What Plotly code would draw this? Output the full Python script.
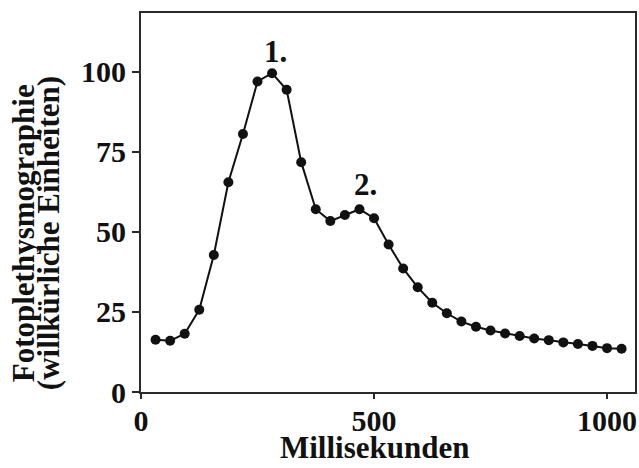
import plotly.graph_objects as go

# Data
zeit_ms = [31.25, 62.5, 93.75, 125, 156.25, 187.5, 218.75, 250, 281.25, 312.5,
           343.75, 375, 406.25, 437.5, 468.75, 500, 531.25, 562.5, 593.75, 625,
           656.25, 687.5, 718.75, 750, 781.25, 812.5, 843.75, 875, 906.25, 937.5,
           968.75, 1000, 1031.25]
ppg = [16.3, 16.0, 18.2, 25.7, 42.8, 65.5, 80.6, 97.0, 99.6, 94.4,
       71.8, 57.1, 53.4, 55.3, 57.1, 54.3, 46.1, 38.6, 32.7, 27.9,
       24.6, 22.0, 20.4, 19.2, 18.3, 17.5, 16.7, 16.2, 15.5, 15.0,
       14.4, 13.7, 13.5]

x_ticks = [0, 500, 1000]
y_ticks = [0, 25, 50, 75, 100]

peak_labels = ["1.", "2."]
peak_x = [288, 482]
peak_y = [106.5, 64.7]

x_title = "Millisekunden"
y_title_lines = ["Fotoplethysmographie", "(willkürliche Einheiten)"]

FONT = dict(family="Liberation Serif, Times New Roman, serif", size=31,
            color="#111111", weight="bold")
TICK_FONT = dict(FONT, size=30)
YT_FONT = dict(FONT, size=31)

fig = go.Figure()
fig.add_trace(go.Scatter(
    x=zeit_ms, y=ppg, mode="lines+markers",
    line=dict(color="#111111", width=2),
    marker=dict(color="#111111", size=10),
    showlegend=False, hoverinfo="skip",
))

for t, xx, yy in zip(peak_labels, peak_x, peak_y):
    fig.add_annotation(x=xx, y=yy, xref="x", yref="y", text=t, showarrow=False,
                       font=FONT, xanchor="center", yanchor="middle")

fig.add_annotation(x=0.4738, y=-0.1979, xref="paper", yref="paper", text=x_title,
                   showarrow=False, font=FONT, xanchor="center", yanchor="bottom")
for t, xx in zip(y_title_lines, [-0.2379, -0.1875]):
    fig.add_annotation(x=xx, y=0.4200, xref="paper", yref="paper", text=t,
                       textangle=-90, showarrow=False, font=YT_FONT,
                       xanchor="center", yanchor="middle")

axis_common = dict(showline=True, linecolor="#2a2a2a", linewidth=2, mirror=True,
                   showgrid=False, zeroline=False, ticks="outside",
                   tickcolor="#2a2a2a", tickwidth=1.5, tickfont=TICK_FONT)

fig.update_xaxes(range=[0, 1060], tickvals=x_ticks, ticklen=5,
                 ticklabelstandoff=-4, **axis_common)
fig.update_yaxes(range=[0, 118.4], tickvals=y_ticks, ticklen=7, **axis_common)

fig.update_layout(
    width=639, height=468,
    margin=dict(l=141, r=2, t=13, b=76),
    paper_bgcolor="white", plot_bgcolor="white",
)

# remove the default page margin so the figure fills the window exactly
fig.write_html(
    "out.html",
    config={"displayModeBar": False},
    post_script="document.body.style.margin='0';document.body.style.overflow='hidden';",
)
